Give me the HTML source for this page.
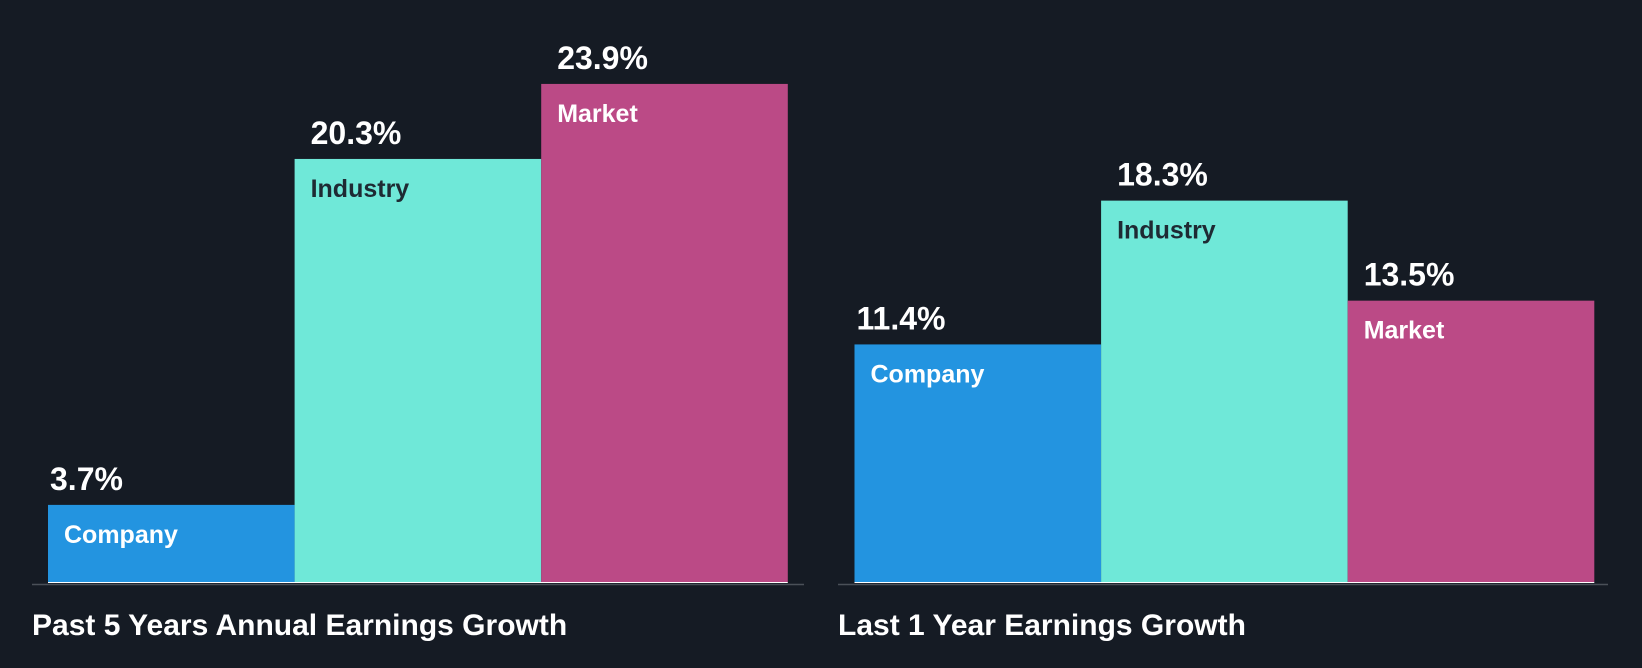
<!DOCTYPE html>
<html><head><meta charset="utf-8">
<style>
html,body{margin:0;padding:0;background:#151b24;}
svg{display:block;}
text{font-family:"Liberation Sans",Arial,sans-serif;font-weight:bold;}
</style></head>
<body>
<svg id="chart" width="1642" height="668" viewBox="0 0 1642 668" xmlns="http://www.w3.org/2000/svg">
<rect width="1642" height="668" fill="#151b24"/>
</svg>
<script>
const categories = ["Company","Industry","Market"];
const past5Values = [3.7, 20.3, 23.9];
const last1Values = [11.4, 18.3, 13.5];
const panelTitles = ["Past 5 Years Annual Earnings Growth","Last 1 Year Earnings Growth"];

const colors = ["#2394e0","#6fe8d8","#bb4a86"];
const labelColors = ["#ffffff","#1e2a33","#ffffff"];
const valueOffsets = [2,16,16];
const svg = document.getElementById('chart');
const NS = "http://www.w3.org/2000/svg";
const baseY = 582, pxPer = 20.84;
function yScale(v){ return baseY - v*pxPer; }
function mk(tag, attrs){ const e=document.createElementNS(NS,tag); for(const k in attrs) e.setAttribute(k,attrs[k]); svg.appendChild(e); return e; }

const panels = [
  {x0:48, axisX0:32, axisX1:804, values:past5Values, title:panelTitles[0], tx:32, key:'past-5y'},
  {x0:854.5, axisX0:838, axisX1:1608, values:last1Values, title:panelTitles[1], tx:838, key:'last-1y'}
];
const barW = 246.6;
panels.forEach(p=>{
  p.values.forEach((v,i)=>{
    const x = p.x0 + i*barW, y = yScale(v);
    const r = mk('rect',{x:x,y:y,width:barW,height:baseY-y,fill:colors[i]});
    
    
    const vl = mk('text',{x:x+valueOffsets[i],y:y-15,fill:'#ffffff','font-size':32});
    vl.textContent = v.toFixed(1)+'%';
    
    
    const cl = mk('text',{x:x+16,y:y+38,fill:labelColors[i],'font-size':25});
    cl.textContent = categories[i];
    
    
  });
  const wl = mk('line',{x1:p.x0,x2:p.x0+3*barW,y1:baseY+0.5,y2:baseY+0.5,stroke:'#ffffff','stroke-width':1});
  
  
  const ax = mk('line',{x1:p.axisX0,x2:p.axisX1,y1:baseY+2.5,y2:baseY+2.5,stroke:'#4a5058','stroke-width':1.5});
  
  
  const t = mk('text',{x:p.tx,y:635,fill:'#ffffff','font-size':30});
  t.textContent = p.title;
  
  
});
</script>
</body></html>
